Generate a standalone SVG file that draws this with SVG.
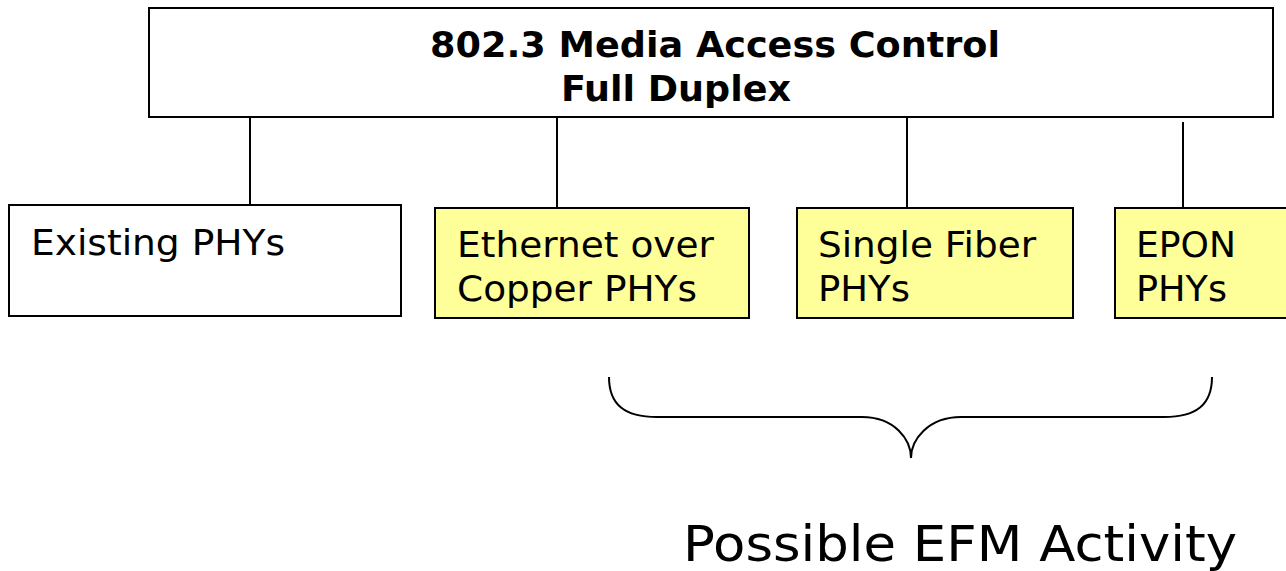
<svg xmlns="http://www.w3.org/2000/svg" width="1286" height="571" viewBox="0 0 1286 571">
<style>
.box{fill:#fff;stroke:#000;stroke-width:2}
.yel{fill:#ffff99;stroke:#000;stroke-width:2}
.t{font-family:"DejaVu Sans","Verdana",sans-serif;font-size:36px;fill:#000}
.b{font-family:"DejaVu Sans","Verdana",sans-serif;font-size:35px;font-weight:bold;fill:#000}
.big{font-family:"DejaVu Sans","Verdana",sans-serif;font-size:50px;fill:#000}
.ln{stroke:#000;stroke-width:2;fill:none}
</style>
<rect width="1286" height="571" fill="#fff"/>
<g id="connectors">
<line class="ln" x1="250" y1="117" x2="250" y2="205"/>
<line class="ln" x1="557" y1="117" x2="557" y2="208"/>
<line class="ln" x1="907" y1="117" x2="907" y2="208"/>
<line class="ln" x1="1183" y1="122" x2="1183" y2="208"/>
</g>
<g id="mac">
<rect class="box" x="149" y="8" width="1124" height="109"/>
<text class="b" x="430" y="57" textLength="570" lengthAdjust="spacingAndGlyphs">802.3 Media Access Control</text>
<text class="b" x="561" y="101" textLength="230" lengthAdjust="spacingAndGlyphs">Full Duplex</text>
</g>
<g id="existing">
<rect class="box" x="9" y="205" width="392" height="111"/>
<text class="t" x="31" y="255" textLength="254" lengthAdjust="spacingAndGlyphs">Existing PHYs</text>
</g>
<g id="copper">
<rect class="yel" x="435" y="208" width="314" height="110"/>
<text class="t" x="457" y="257" textLength="257" lengthAdjust="spacingAndGlyphs">Ethernet over</text>
<text class="t" x="457" y="301" textLength="240" lengthAdjust="spacingAndGlyphs">Copper PHYs</text>
</g>
<g id="fiber">
<rect class="yel" x="797" y="208" width="276" height="110"/>
<text class="t" x="818" y="257" textLength="218" lengthAdjust="spacingAndGlyphs">Single Fiber</text>
<text class="t" x="818" y="301" textLength="92" lengthAdjust="spacingAndGlyphs">PHYs</text>
</g>
<g id="epon">
<rect class="yel" x="1115" y="208" width="180" height="110"/>
<text class="t" x="1136" y="257" textLength="100" lengthAdjust="spacingAndGlyphs">EPON</text>
<text class="t" x="1136" y="301" textLength="91" lengthAdjust="spacingAndGlyphs">PHYs</text>
</g>
<g id="brace">
<path class="ln" d="M609,377 C609,405 625,417 657,417 L862,417 C895,417 911,440 911,458 C911,440 928,417 961,417 L1164,417 C1196,417 1212,405 1212,377"/>
<text class="big" x="683" y="561" textLength="554" lengthAdjust="spacingAndGlyphs">Possible EFM Activity</text>
</g>
</svg>
